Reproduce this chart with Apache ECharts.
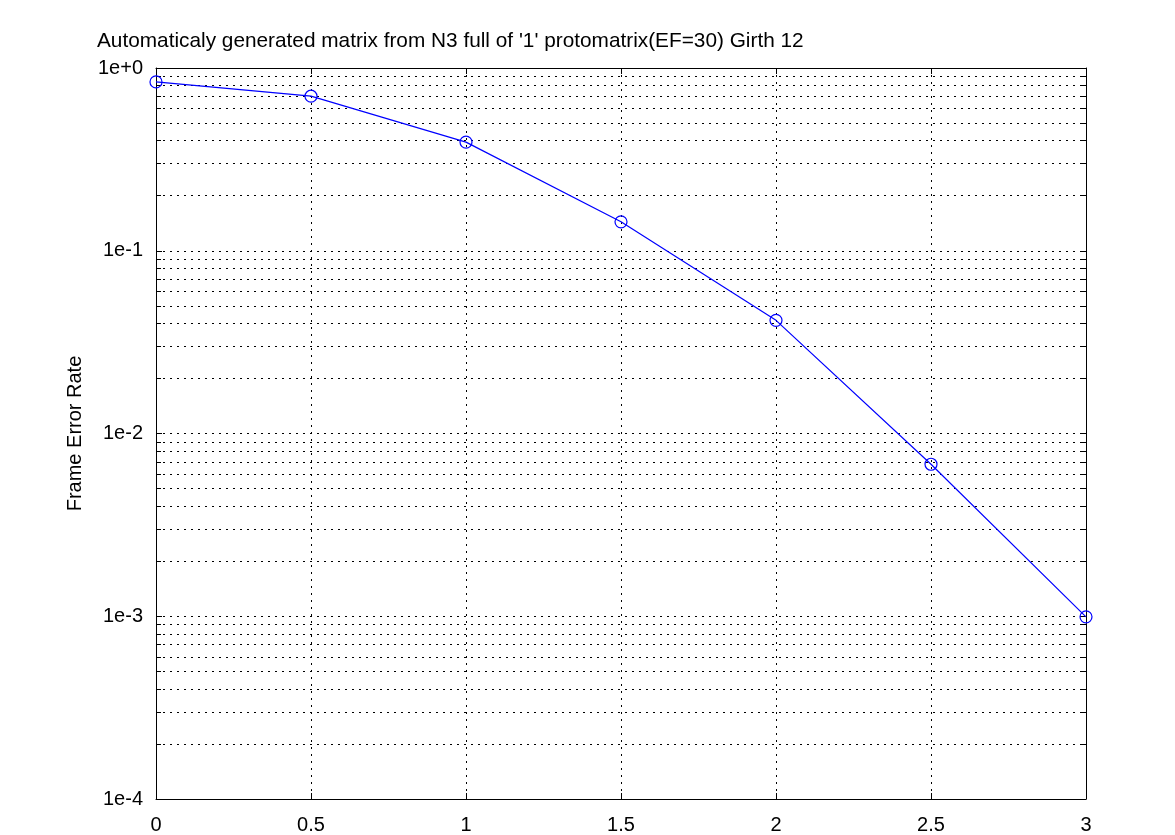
<!DOCTYPE html>
<html>
<head>
<meta charset="utf-8">
<script src="https://cdn.jsdelivr.net/npm/echarts@6/dist/echarts.min.js"></script>
<style>
html,body{margin:0;padding:0;background:#fff;}
#chart{width:1175px;height:835px;}
</style>
</head>
<body>
<div id="chart"></div>
<script>
const titleText = "Automaticaly generated matrix from N3 full of '1' protomatrix(EF=30) Girth 12";
const yAxisName = "Frame Error Rate";
const snrValues = [0, 0.5, 1, 1.5, 2, 2.5, 3];
const ferValues = [0.839, 0.701, 0.393, 0.144, 0.0416, 0.00679, 0.000993];
const xTicks = [0, 0.5, 1, 1.5, 2, 2.5, 3];
const yMin = 1e-4, yMax = 1;

const FONT = "'Liberation Sans', Arial, sans-serif";
const chart = echarts.init(document.getElementById('chart'), null, {renderer: 'canvas'});

function expLabel(v) {
  const e = Math.round(Math.log10(v));
  return '1e' + (e >= 0 ? '+' : '-') + Math.abs(e);
}

const dotted = {color: '#000', width: 1, type: [2, 5]};

const baseY = {
  type: 'log', logBase: 10, min: yMin, max: yMax,
  axisLine: {show: true, onZero: false, lineStyle: {color: '#000', width: 1}},
  axisTick: {show: true, inside: true, length: 6, lineStyle: {color: '#000'}},
  minorTick: {show: true, splitNumber: 9, length: 5, lineStyle: {color: '#000'}},
};

const option = {
  backgroundColor: '#fff',
  animation: false,
  title: {
    text: titleText, left: 92, top: 26,
    textStyle: {fontFamily: FONT, fontSize: 20.8, fontWeight: 'normal', color: '#000'}
  },
  grid: {left: 156, right: 89, top: 68, bottom: 34, containLabel: false},
  xAxis: [{
    type: 'value', min: 0, max: 3, interval: 0.5, position: 'bottom',
    axisLine: {show: true, onZero: false, lineStyle: {color: '#000', width: 1}},
    axisTick: {show: true, inside: true, length: 6, lineStyle: {color: '#000'}},
    axisLabel: {color: '#000', fontFamily: FONT, fontSize: 20, margin: 16,
      formatter: v => String(v)},
    splitLine: {show: true, lineStyle: dotted}
  }, {
    type: 'value', min: 0, max: 3, interval: 0.5, position: 'top',
    axisLine: {show: true, onZero: false, lineStyle: {color: '#000', width: 1}},
    axisTick: {show: true, inside: true, length: 6, lineStyle: {color: '#000'}},
    axisLabel: {show: false},
    splitLine: {show: false}
  }],
  yAxis: [Object.assign({}, baseY, {
    position: 'left',
    name: yAxisName, nameLocation: 'middle', nameGap: 71,
    nameTextStyle: {color: '#000', fontFamily: FONT, fontSize: 20},
    axisLabel: {color: '#000', fontFamily: FONT, fontSize: 20, margin: 13, formatter: expLabel},
    splitLine: {show: true, lineStyle: dotted},
    minorSplitLine: {show: true, lineStyle: dotted}
  }), Object.assign({}, baseY, {
    position: 'right',
    axisLabel: {show: false},
    splitLine: {show: false},
    minorSplitLine: {show: false}
  })],
  series: [{
    type: 'line',
    xAxisIndex: 0, yAxisIndex: 0,
    data: snrValues.map((x, i) => [x, ferValues[i]]),
    symbol: 'circle', symbolSize: 12,
    lineStyle: {color: '#0000ff', width: 1.2},
    itemStyle: {color: 'rgba(0,0,0,0)', borderColor: '#0000ff', borderWidth: 1.2},
    z: 5
  }]
};
chart.setOption(option);
</script>
</body>
</html>
